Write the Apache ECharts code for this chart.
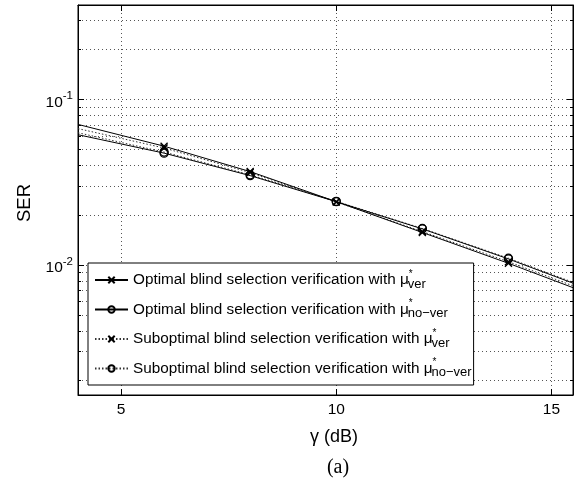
<!DOCTYPE html>
<html><head><meta charset="utf-8">
<script src="https://cdn.jsdelivr.net/npm/echarts@6/dist/echarts.min.js"></script>
<style>html,body{margin:0;padding:0;background:#fff}#c{width:587px;height:483px}</style>
</head><body><div id="c"></div>
<script>
// gamma (dB) sample points of the curves
const gammaDb = [4, 6, 8, 10, 12, 14, 15.5];
// points where markers are drawn
const markerDb = [6, 8, 10, 12, 14];
const serOptVer = [0.0705, 0.0521, 0.0366, 0.0241, 0.0157, 0.01023, 0.00729];
const serOptNoVer = [0.0611, 0.0473, 0.0346, 0.0241, 0.0165, 0.01087, 0.00776];
const serSubVer = [0.0665, 0.0508, 0.0361, 0.0240, 0.0159, 0.01045, 0.00748];
const serSubNoVer = [0.0628, 0.0480, 0.0350, 0.0242, 0.0166, 0.01098, 0.00786];
const xTicks = [5, 10, 15];
const yMajorTicks = [0.01, 0.1];
const yMinorTicks = [0.002, 0.003, 0.004, 0.005, 0.006, 0.007, 0.008, 0.009,
  0.02, 0.03, 0.04, 0.05, 0.06, 0.07, 0.08, 0.09, 0.2, 0.3];
const seriesNames = [
  'Optimal blind selection verification with μ*ver',
  'Optimal blind selection verification with μ*no-ver',
  'Suboptimal blind selection verification with μ*ver',
  'Suboptimal blind selection verification with μ*no-ver'
];
const legendRich = {
  'Optimal blind selection verification with μ*ver': 'Optimal blind selection verification with μ{sup|*}{sub|ver}',
  'Optimal blind selection verification with μ*no-ver': 'Optimal blind selection verification with μ{sup|*}{sub|no−ver}',
  'Suboptimal blind selection verification with μ*ver': 'Suboptimal blind selection verification with μ{sup|*}{sub|ver}',
  'Suboptimal blind selection verification with μ*no-ver': 'Suboptimal blind selection verification with μ{sup|*}{sub|no−ver}'
};
const xLabelText = 'γ (dB)';
const captionText = '(a)';

const FONT = '"Liberation Sans", Arial, Helvetica, sans-serif';
const X_MIN = 4, X_MAX = 15.5, Y_MIN = 0.00164, Y_MAX = 0.3707;
const xMark = 'path://M0,0L10,10M0,10L10,0';

function buildData(values) {
  return gammaDb.map((g, i) => {
    const item = { value: [g, values[i]] };
    if (markerDb.indexOf(g) < 0) item.symbol = 'none';
    return item;
  });
}

function mkSeries(name, values, symbol, dotted) {
  return {
    name: name, type: 'line', xAxisIndex: 0, yAxisIndex: 0,
    data: buildData(values),
    symbol: symbol, symbolSize: symbol === 'circle' ? 8 : 7,
    showAllSymbol: true,
    lineStyle: { color: dotted ? '#333' : '#000', width: 1, type: dotted ? [1.5, 2] : 'solid' },
    itemStyle: { color: symbol === 'circle' ? 'rgba(0,0,0,0)' : '#000', borderColor: '#000', borderWidth: 1.3 },
    emphasis: { disabled: true },
    animation: false, clip: true, z: dotted ? 3 : 4
  };
}

const gridDot = { show: true, lineStyle: { color: '#555', width: 1, type: [1, 3] } };

const chart = echarts.init(document.getElementById('c'));
chart.setOption({
  animation: false,
  backgroundColor: '#fff',
  grid: { left: 78, right: 14, top: 5, bottom: 88, show: true, borderColor: '#000', borderWidth: 1, containLabel: false, outerBoundsMode: 'none' },
  xAxis: [
    {
      type: 'value', min: X_MIN, max: X_MAX, position: 'bottom',
      axisLine: { show: true, lineStyle: { color: '#000' } },
      axisTick: { show: true, inside: true, length: 6, customValues: xTicks, lineStyle: { color: '#000' } },
      axisLabel: { show: true, customValues: xTicks, fontFamily: FONT, fontSize: 15.5, color: '#000', margin: 7 },
      splitLine: gridDot
    },
    {
      type: 'value', min: X_MIN, max: X_MAX, position: 'top',
      axisLine: { show: true, lineStyle: { color: '#000' } },
      axisTick: { show: true, inside: true, length: 6, customValues: xTicks, lineStyle: { color: '#000' } },
      axisLabel: { show: false }, splitLine: { show: false }
    }
  ],
  yAxis: [
    {
      type: 'log', logBase: 10, min: Y_MIN, max: Y_MAX, position: 'left',
      name: 'SER', nameLocation: 'middle', nameGap: 44,
      nameTextStyle: { fontFamily: FONT, fontSize: 18.5, color: '#000', padding: [0, 6, 0, 0] },
      axisLine: { show: true, lineStyle: { color: '#000' } },
      axisTick: { show: true, inside: true, length: 6, customValues: yMajorTicks, lineStyle: { color: '#000' } },
      axisLabel: {
        show: true, customValues: yMajorTicks, margin: 5,
        formatter: function (v) { return '{b|10}{s|' + Math.round(Math.log10(v)) + '}'; },
        rich: {
          b: { fontFamily: FONT, fontSize: 15.5, color: '#000', padding: [6, 0, 0, 0] },
          s: { fontFamily: FONT, fontSize: 11.5, color: '#000', padding: [0, 0, 6, 0] }
        }
      },
      splitLine: gridDot
    },
    {
      type: 'log', logBase: 10, min: Y_MIN, max: Y_MAX, position: 'right',
      axisLine: { show: true, lineStyle: { color: '#000' } },
      axisTick: { show: true, inside: true, length: 6, customValues: yMajorTicks, lineStyle: { color: '#000' } },
      axisLabel: { show: false }, splitLine: { show: false }
    },
    {
      type: 'log', logBase: 10, min: Y_MIN, max: Y_MAX, position: 'left',
      axisLine: { show: false },
      axisTick: { show: true, inside: true, length: 3, customValues: yMinorTicks, lineStyle: { color: '#000' } },
      axisLabel: { show: false }, splitLine: gridDot
    },
    {
      type: 'log', logBase: 10, min: Y_MIN, max: Y_MAX, position: 'right',
      axisLine: { show: false },
      axisTick: { show: true, inside: true, length: 3, customValues: yMinorTicks, lineStyle: { color: '#000' } },
      axisLabel: { show: false }, splitLine: { show: false }
    }
  ],
  legend: {
    orient: 'vertical', left: 88, top: 263,
    padding: [6, 2, 6, 6], itemGap: 8,
    itemWidth: 33, itemHeight: 8,
    backgroundColor: '#fff', borderColor: '#000', borderWidth: 1,
    data: seriesNames,
    formatter: function (n) { return legendRich[n]; },
    textStyle: {
      fontFamily: FONT, fontSize: 15.3, color: '#000',
      rich: {
        sup: { fontFamily: FONT, fontSize: 10, color: '#000', padding: [0, 0, 12, 0] },
        sub: { fontFamily: FONT, fontSize: 13, color: '#000', padding: [8, 0, 0, -5] }
      }
    },
    selectedMode: false
  },
  graphic: [
    { type: 'text', x: 334, y: 437, style: { text: xLabelText, font: '18px "Liberation Sans", Arial, sans-serif', fill: '#000', textAlign: 'center', textVerticalAlign: 'middle' } },
    { type: 'text', x: 338, y: 468, style: { text: captionText, font: '20px "Liberation Serif", "Times New Roman", serif', fill: '#000', textAlign: 'center', textVerticalAlign: 'middle' } }
  ],
  series: [
    mkSeries(seriesNames[0], serOptVer, xMark, false),
    mkSeries(seriesNames[1], serOptNoVer, 'circle', false),
    mkSeries(seriesNames[2], serSubVer, xMark, true),
    mkSeries(seriesNames[3], serSubNoVer, 'circle', true)
  ]
});
</script>
</body></html>
